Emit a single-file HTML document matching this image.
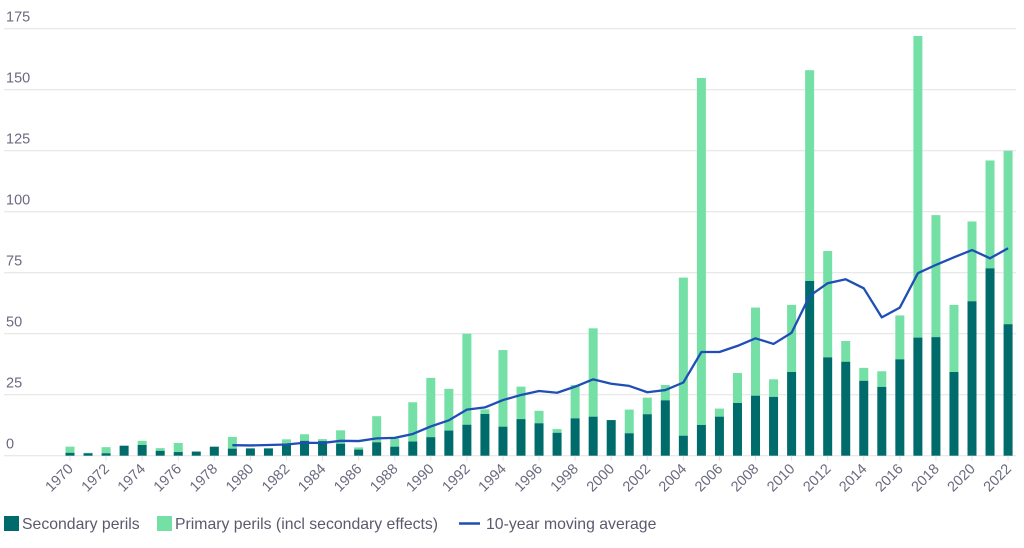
<!DOCTYPE html>
<html><head><meta charset="utf-8">
<style>
html,body{margin:0;padding:0;background:#fff;width:1024px;height:548px;overflow:hidden;}
svg text{font-family:"Liberation Sans",sans-serif;}
</style></head>
<body>
<svg id="chart" width="1024" height="548" viewBox="0 0 1024 548" xmlns="http://www.w3.org/2000/svg">
<g id="grid"></g>
<g id="yticks"></g>
<g id="bars"></g>
<g id="xticks"></g>
<g id="line"></g>
<g font-size="15.8" fill="#5a5a6e">
  <g>
    <rect x="4" y="516" width="15" height="15" fill="#006b6b"/>
    <text x="22" y="529" fill="#5a5a6e">Secondary perils</text>
  </g>
  <g>
    <rect x="157" y="516" width="15" height="15" fill="#74e0a6"/>
    <text x="175" y="529" fill="#5a5a6e">Primary perils (incl secondary effects)</text>
  </g>
  <g>
    <line x1="459" y1="523.5" x2="480" y2="523.5" stroke="#1f4fb5" stroke-width="2.5"/>
    <text x="486" y="529" fill="#5a5a6e">10-year moving average</text>
  </g>
</g>
</svg>
<script>
const years = [];
for (let y = 1970; y <= 2022; y++) years.push(y);
const secondary = [1.2,1,1,4.1,4.4,2,1.5,1.7,3.7,2.9,3,3,4.4,6.1,6,4.9,2.5,5.5,3.7,5.8,7.6,10.3,12.7,17.1,11.9,15,13.3,9.4,15.3,16,14.6,9.2,17,22.7,8.2,12.6,16,21.6,24.6,24.1,34.3,71.6,40.3,38.5,30.7,28.2,39.5,48.4,48.6,34.3,63.3,76.8,53.9];
const total = [3.7,1.2,3.5,4.1,6.1,3.1,5.2,1.7,3.7,7.7,3,3,6.7,8.8,6.8,10.4,3.4,16.2,7,21.9,31.9,27.4,50,19,43.3,28.3,18.4,10.9,29,52.2,14.6,18.9,23.8,29,73,154.8,19.3,33.9,60.7,31.3,61.8,158,83.9,47,36,34.6,57.5,172,98.6,61.8,96,121,125];
const avgYears = years.slice(9);
const movingAvg = [4.3,4.2,4.4,4.6,5.3,5.2,6.1,6,7.1,7.3,8.9,12,14.5,18.9,19.8,22.8,24.9,26.5,25.8,28.3,31.3,29.5,28.6,26,26.9,30,42.5,42.5,45,48.1,45.8,50.4,65.5,70.7,72.3,68.6,56.7,60.7,74.8,78.2,81.3,84.3,80.9,85];
const yTicks = [0,25,50,75,100,125,150,175];
const xLabelYears = years.filter(y => y % 2 === 0);

const NS = "http://www.w3.org/2000/svg";
const y0 = 455.7, perUnit = 2.44;
const yScale = v => y0 - v * perUnit;
const xScale = yr => 70 + (yr - 1970) * 18.04;
const barW = 9;
function mk(tag, attrs, parent){ const e=document.createElementNS(NS,tag); for(const k in attrs) e.setAttribute(k,attrs[k]); parent.appendChild(e); return e; }

const grid = document.getElementById('grid'), yt = document.getElementById('yticks');
yTicks.forEach(t => {
  const l = mk('line',{x1:4,x2:1016,y1:yScale(t),y2:yScale(t),stroke:'#e6e6e6','stroke-width':1.2},grid);
  
  
  const tx = mk('text',{x:6,y:yScale(t)-7,'font-size':14.5,fill:'#6a6a80'},yt);
  tx.textContent = t;
  
  
});

const bars = document.getElementById('bars');
years.forEach((yr,i) => {
  const cx = xScale(yr);
  const p = mk('rect',{x:cx-barW/2,y:yScale(total[i]),width:barW,height:Math.max(0,yScale(secondary[i])-yScale(total[i])),fill:'#74e0a6'},bars);
  
  
  const s = mk('rect',{x:cx-barW/2,y:yScale(secondary[i]),width:barW,height:y0-yScale(secondary[i]),fill:'#006b6b'},bars);
  
  
});

const xt = document.getElementById('xticks');
xLabelYears.forEach(yr => {
  const cx = xScale(yr);
  const tk = mk('line',{x1:cx,x2:cx,y1:y0,y2:y0+5,stroke:'#e0e0e0'},xt);
  
  
  const tx = mk('text',{x:cx+4,y:y0+14,'font-size':14.5,fill:'#6a6a80','text-anchor':'end',transform:`rotate(-45 ${cx+4} ${y0+14})`},xt);
  tx.textContent = yr;
  
  
});

const pts = avgYears.map((yr,i) => xScale(yr)+','+yScale(movingAvg[i])).join(' ');
const pl = mk('polyline',{points:pts,fill:'none',stroke:'#1f4fb5','stroke-width':2.3,'stroke-linejoin':'round'},document.getElementById('line'));


</script>
</body></html>
